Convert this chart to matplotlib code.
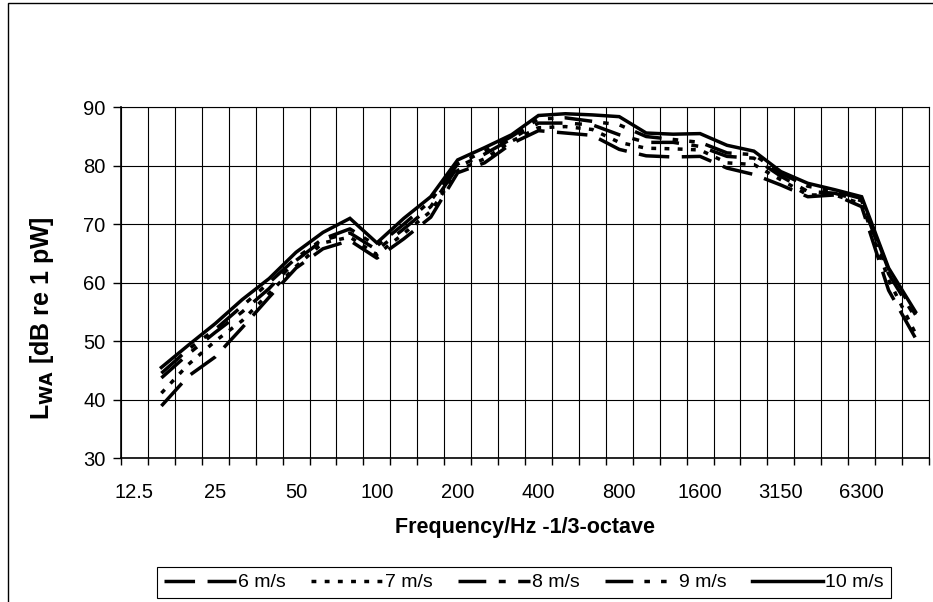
import numpy as np
import matplotlib.pyplot as plt
from matplotlib.patches import Rectangle

plt.rcParams['font.family'] = ['Liberation Sans', 'DejaVu Sans']
plt.rcParams['lines.scale_dashes'] = False

# 1/3-octave band centre frequencies (category axis)
freqs = ['12.5', '16', '20', '25', '31.5', '40', '50', '63', '80', '100', '125', '160',
         '200', '250', '315', '400', '500', '630', '800', '1000', '1250', '1600', '2000',
         '2500', '3150', '4000', '5000', '6300', '8000', '10000']
shown = ['12.5', '25', '50', '100', '200', '400', '800', '1600', '3150', '6300']

# sound power level per band, 16 Hz .. 10 kHz
lwa_6 = [38.9, 44.0, 47.3, 52.3, 57.5, 62.5, 65.8, 67.2, 64.2, 67.5, 71.2, 78.8, 80.5, 83.8,
         86.0, 85.6, 85.2, 82.8, 81.7, 81.5, 81.6, 79.6, 78.5, 76.7, 74.7, 75.0, 73.0, 58.7, 50.5]
lwa_7 = [41.1, 46.0, 50.0, 53.5, 58.2, 62.8, 66.8, 67.8, 64.8, 68.4, 72.2, 79.2, 81.2, 84.2,
         86.5, 86.7, 86.2, 84.0, 83.0, 82.9, 82.7, 80.5, 80.2, 77.6, 75.0, 75.0, 73.5, 60.5, 51.3]
lwa_8 = [43.7, 47.8, 51.5, 55.0, 59.0, 63.8, 67.3, 68.5, 65.6, 69.2, 73.0, 79.8, 82.0, 84.6,
         87.3, 87.3, 87.0, 85.3, 84.0, 84.0, 83.3, 81.6, 81.3, 78.2, 75.6, 75.3, 74.0, 61.5, 54.0]
lwa_9 = [44.5, 48.6, 52.0, 56.0, 60.0, 64.2, 67.5, 69.2, 66.3, 70.0, 74.0, 80.3, 82.5, 85.0,
         88.0, 88.2, 87.6, 87.0, 85.0, 84.5, 84.0, 82.2, 81.9, 78.7, 76.5, 75.6, 74.4, 62.2, 54.5]
lwa_10 = [45.5, 49.3, 53.0, 57.1, 60.7, 65.2, 68.6, 71.0, 66.8, 71.0, 74.7, 81.0, 83.1, 85.3,
          88.6, 88.9, 88.7, 88.4, 85.6, 85.4, 85.5, 83.5, 82.5, 79.0, 77.0, 75.9, 74.7, 62.5, 55.0]

series = [('6 m/s', lwa_6, (0, (22, 9))),
          ('7 m/s', lwa_7, (0, (3.5, 6))),
          ('8 m/s', lwa_8, (0, (20, 9, 5, 9))),
          ('9 m/s', lwa_9, (0, (20, 8, 4, 8, 4, 8))),
          ('10 m/s', lwa_10, '-')]

fig = plt.figure(figsize=(9.33, 6.02), dpi=100)
ax = fig.add_axes([121 / 933, 1 - 458 / 602, 808 / 933, 350.7 / 602])

x = np.arange(1, len(freqs))
for name, vals, ls in series:
    ax.plot(x, vals, color='black', lw=2.5, linestyle=ls, label=name,
            solid_joinstyle='miter', dash_capstyle='butt')

ax.set_xlim(-0.5, len(freqs) - 0.5)
ax.set_ylim(30, 90)
ax.set_yticks(range(30, 91, 10))
ax.set_xticks(np.arange(-0.5, len(freqs), 1))
ax.set_xticklabels([])
ax.set_xticks([freqs.index(f) for f in shown], minor=True)
ax.set_xticklabels(shown, minor=True)
ax.tick_params(axis='x', which='minor', length=0, pad=18, labelsize=14.5)
ax.tick_params(axis='x', which='major', length=5, width=1, direction='out')
ax.tick_params(axis='y', length=6, width=1, direction='out', labelsize=14.5, pad=5)
ax.grid(True, which='major', color='black', lw=0.8)
for s in ax.spines.values():
    s.set_linewidth(0.8)
ax.spines['left'].set_linewidth(1.2)
ax.spines['bottom'].set_linewidth(1.2)

fig.text(525 / 933, 1 - 528 / 602, 'Frequency/Hz -1/3-octave', fontsize=15.5,
         fontweight='bold', ha='center', va='center')
fig.text(42 / 933, 1 - 318 / 602, r'L$_{\mathbf{WA}}$ [dB re 1 pW]', rotation=90,
         fontsize=18, fontweight='bold', ha='center', va='center')

leg = fig.legend(loc='upper center', bbox_to_anchor=(524 / 933, 1 - 567 / 602), ncol=5,
                 fontsize=14, handlelength=3.7, columnspacing=1.3, handletextpad=0.1,
                 borderpad=0.35, borderaxespad=0, fancybox=False, edgecolor='black',
                 framealpha=1)
leg.get_frame().set_linewidth(0.8)

fig.patches.append(Rectangle((8 / 933, -0.1), 1.2, 1.095, transform=fig.transFigure,
                             fill=False, edgecolor='black', lw=1))

fig.savefig('out.png', dpi=100)
